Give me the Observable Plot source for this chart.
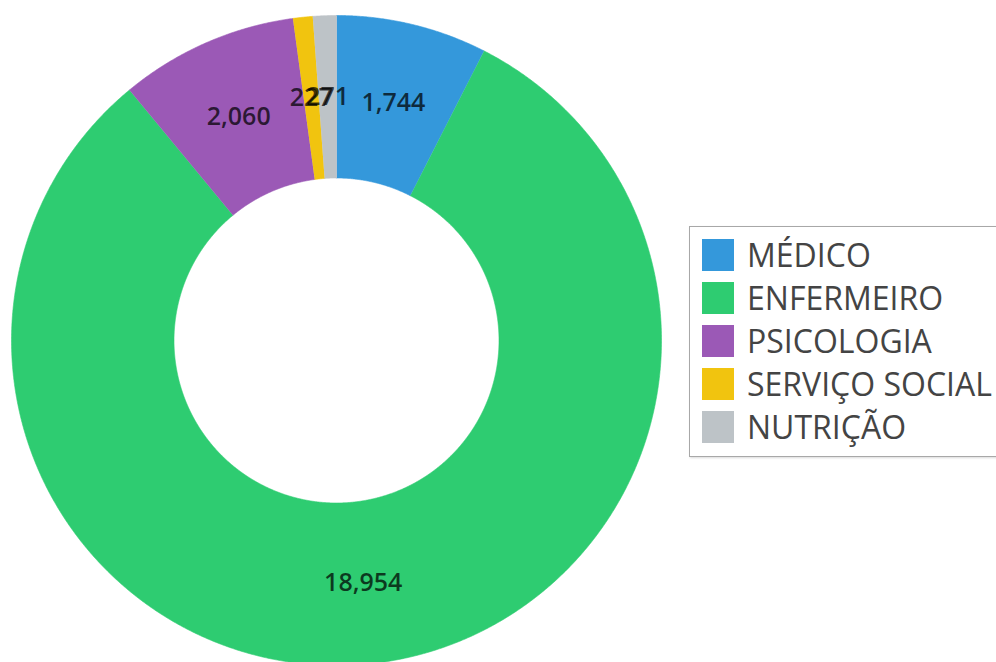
<!DOCTYPE html>
<html>
<head>
<meta charset="utf-8">
<script src="https://cdn.jsdelivr.net/npm/d3@7"></script>
<script src="https://cdn.jsdelivr.net/npm/@observablehq/plot@0.6"></script>
<style>
  html, body { margin: 0; padding: 0; background: #fff; overflow: hidden; }
  #wrap { position: relative; width: 996px; height: 662px; overflow: hidden; }
  #legend {
    position: absolute; left: 689px; top: 226px; width: 360px;
    border: 1px solid #a8a8a8; box-shadow: 1px 1px 2px rgba(0,0,0,0.15);
    padding: 6px 0 8px 12px; background: #fff;
    font-family: "Open Sans", sans-serif; font-size: 32px; color: #444;
  }
  .row { display: flex; align-items: center; height: 43px; }
  .sw { width: 32px; height: 32px; margin-right: 13px; flex: none; }
</style>
</head>
<body>
<div id="wrap"></div>
<script>
const categories = ["MÉDICO", "ENFERMEIRO", "PSICOLOGIA", "SERVIÇO SOCIAL", "NUTRIÇÃO"];
const values = [1744, 18954, 2060, 227, 271];
const colors = ["#3498db", "#2ecc71", "#9b59b6", "#f1c40f", "#bdc3c7"];

const data = categories.map((c, i) => ({cat: c, value: values[i]}));
const arcs = d3.pie().sort(null).value(d => d.value)(data);

const rOuter = 1, rInner = 0.5, rLabel = 0.75;
const pts = [];
for (const a of arcs) {
  const n = Math.max(2, Math.ceil((a.endAngle - a.startAngle) / (Math.PI / 720)));
  for (let i = 0; i <= n; i++) {
    const t = a.startAngle + (a.endAngle - a.startAngle) * i / n;
    pts.push({cat: a.data.cat, x: rOuter * Math.sin(t), y: rOuter * Math.cos(t)});
  }
  for (let i = n; i >= 0; i--) {
    const t = a.startAngle + (a.endAngle - a.startAngle) * i / n;
    pts.push({cat: a.data.cat, x: rInner * Math.sin(t), y: rInner * Math.cos(t)});
  }
}
const labels = arcs.map(a => {
  const m = (a.startAngle + a.endAngle) / 2;
  return {cat: a.data.cat, value: a.data.value, x: rLabel * Math.sin(m), y: rLabel * Math.cos(m)};
});

const W = 996, H = 662;
const plot = Plot.plot({
  width: W, height: H,
  marginLeft: 11, marginRight: 335, marginTop: 15, marginBottom: 0,
  x: {domain: [-1, 1], axis: null},
  y: {domain: [1 - (H - 15) / 325, 1], axis: null},
  color: {domain: categories, range: colors},
  style: {fontFamily: "'Open Sans', sans-serif", background: "transparent"},
  marks: [
    Plot.line(pts, {x: "x", y: "y", z: "cat", fill: "cat", stroke: "cat", strokeWidth: 0.6, curve: "linear"}),
    Plot.text(labels, {x: "x", y: "y", text: d => d3.format(",")(d.value),
      fontSize: 25, fontWeight: 600, fill: "#000", fillOpacity: 0.72})
  ]
});
const wrap = document.getElementById("wrap");
wrap.appendChild(plot);

const color = plot.scale("color");
const legend = document.createElement("div");
legend.id = "legend";
for (const c of categories) {
  const row = document.createElement("div");
  row.className = "row";
  const sw = document.createElement("div");
  sw.className = "sw";
  sw.style.background = colors[color.domain.indexOf(c)];
  const lb = document.createElement("span");
  lb.textContent = c;
  row.appendChild(sw); row.appendChild(lb);
  legend.appendChild(row);
}
wrap.appendChild(legend);
</script>
</body>
</html>
